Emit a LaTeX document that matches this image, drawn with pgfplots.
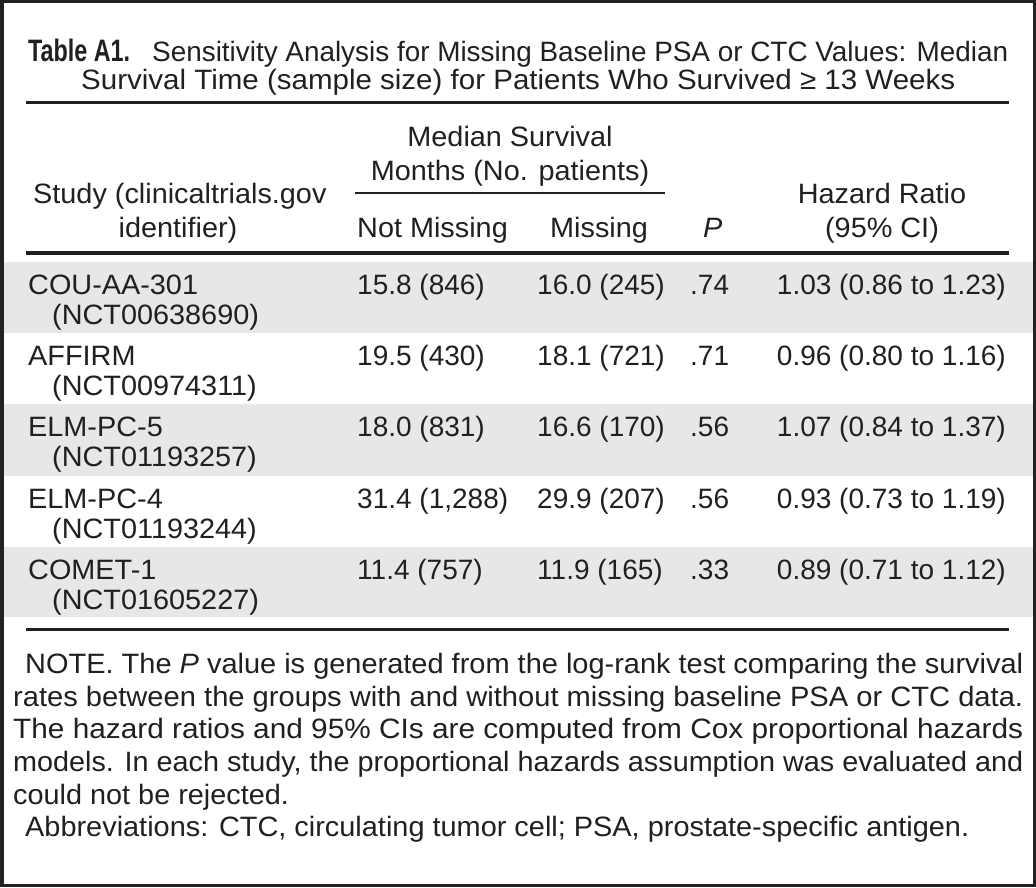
\documentclass[border=0pt]{standalone}
\usepackage{pgfplots}
\pgfplotsset{compat=1.18}
\usepackage{graphicx}
\usepackage{fontspec}
\setmainfont{Liberation Sans}[FakeStretch=1.03]
\newfontfamily\numf{Liberation Sans}
\definecolor{ink}{HTML}{231F20}
\definecolor{band}{HTML}{E6E7E7}
\definecolor{framec}{HTML}{222222}
\newcommand{\fw}[2]{\resizebox{#1bp}{\height}{#2}}
\tikzset{
  t/.style={font=\fontsize{28bp}{30bp}\selectfont,text=ink,inner sep=0pt,anchor=base west},
  tc/.style={t,anchor=base},
  te/.style={t,anchor=base east},
  rule/.style={color=ink,line width=3bp}}
\begin{document}
\fontsize{28bp}{30bp}\selectfont
\begin{tikzpicture}
\begin{axis}[width=1036bp,height=887bp,scale only axis,
  xmin=0,xmax=1036,ymin=0,ymax=887,y dir=reverse,hide axis,clip=false]
% frame and background
\addplot[fill=framec,draw=none] coordinates {(0,0) (1036,0) (1036,887) (0,887)};
\addplot[fill=white,draw=none] coordinates {(3.5,3.5) (1032.5,3.5) (1032.5,883.5) (3.5,883.5)};
% shaded rows
\addplot[fill=band,draw=none] coordinates {(3.5,262) (1032.5,262) (1032.5,333) (3.5,333)};
\addplot[fill=band,draw=none] coordinates {(3.5,404) (1032.5,404) (1032.5,476) (3.5,476)};
\addplot[fill=band,draw=none] coordinates {(3.5,547) (1032.5,547) (1032.5,617) (3.5,617)};
% rules
\addplot[rule,no markers] coordinates {(26,102.5) (1009,102.5)};
\addplot[rule,no markers,line width=2.5bp] coordinates {(355,193) (665,193)};
\addplot[rule,no markers,line width=3.5bp] coordinates {(26,253) (1009,253)};
\addplot[rule,no markers] coordinates {(26,629.5) (1009,629.5)};
% title
\node[t] at (axis cs:28,62) {\fw{102}{\fontsize{31bp}{32bp}\selectfont\bfseries Table A1.}};
\node[t] at (axis cs:152,62) {\fw{856}{Sensitivity Analysis for Missing Baseline PSA or CTC Values: Median}};
\node[t] at (axis cs:81,90) {\fw{874}{Survival Time (sample size) for Patients Who Survived ≥ 13 Weeks}};
% header
\node[tc] at (axis cs:510,146) {Median Survival};
\node[tc] at (axis cs:510,180) {Months (No. patients)};
\node[t] at (axis cs:33,203) {Study (clinicaltrials.gov};
\node[tc] at (axis cs:178,237) {identifier)};
\node[t] at (axis cs:357,237) {Not Missing};
\node[t] at (axis cs:550,237) {Missing};
\node[t] at (axis cs:703,237) {\itshape P};
\node[tc] at (axis cs:882,203) {Hazard Ratio};
\node[tc] at (axis cs:882,237) {(95\% CI)};
% rows
\node[t] at (axis cs:28,294) {COU-AA-301};
\node[t] at (axis cs:52,324) {(NCT00638690)};
\node[t] at (axis cs:357,294) {\numf 15.8 (846)};
\node[t] at (axis cs:537,294) {\numf 16.0 (245)};
\node[t] at (axis cs:690,294) {\numf .74};
\node[te] at (axis cs:1006,294) {\numf 1.03 (0.86 to 1.23)};
\node[t] at (axis cs:28,365) {AFFIRM};
\node[t] at (axis cs:52,395) {(NCT00974311)};
\node[t] at (axis cs:357,365) {\numf 19.5 (430)};
\node[t] at (axis cs:537,365) {\numf 18.1 (721)};
\node[t] at (axis cs:690,365) {\numf .71};
\node[te] at (axis cs:1006,365) {\numf 0.96 (0.80 to 1.16)};
\node[t] at (axis cs:28,436) {ELM-PC-5};
\node[t] at (axis cs:52,466) {(NCT01193257)};
\node[t] at (axis cs:357,436) {\numf 18.0 (831)};
\node[t] at (axis cs:537,436) {\numf 16.6 (170)};
\node[t] at (axis cs:690,436) {\numf .56};
\node[te] at (axis cs:1006,436) {\numf 1.07 (0.84 to 1.37)};
\node[t] at (axis cs:28,508) {ELM-PC-4};
\node[t] at (axis cs:52,538) {(NCT01193244)};
\node[t] at (axis cs:357,508) {\numf 31.4 (1,288)};
\node[t] at (axis cs:537,508) {\numf 29.9 (207)};
\node[t] at (axis cs:690,508) {\numf .56};
\node[te] at (axis cs:1006,508) {\numf 0.93 (0.73 to 1.19)};
\node[t] at (axis cs:28,579) {COMET-1};
\node[t] at (axis cs:52,609) {(NCT01605227)};
\node[t] at (axis cs:357,579) {\numf 11.4 (757)};
\node[t] at (axis cs:537,579) {\numf 11.9 (165)};
\node[t] at (axis cs:690,579) {\numf .33};
\node[te] at (axis cs:1006,579) {\numf 0.89 (0.71 to 1.12)};
% notes
\node[t] at (axis cs:25,673) {\fw{998}{NOTE. The \textit{P} value is generated from the log-rank test comparing the survival}};
\node[t] at (axis cs:13,706) {\fw{1010}{rates between the groups with and without missing baseline PSA or CTC data.}};
\node[t] at (axis cs:13,738) {\fw{1010}{The hazard ratios and 95\% CIs are computed from Cox proportional hazards}};
\node[t] at (axis cs:13,771) {\fw{1010}{models. In each study, the proportional hazards assumption was evaluated and}};
\node[t] at (axis cs:13,804) {could not be rejected.};
\node[t] at (axis cs:25,836) {\fw{944}{Abbreviations: CTC, circulating tumor cell; PSA, prostate-specific antigen.}};
\end{axis}
\end{tikzpicture}
\end{document}
